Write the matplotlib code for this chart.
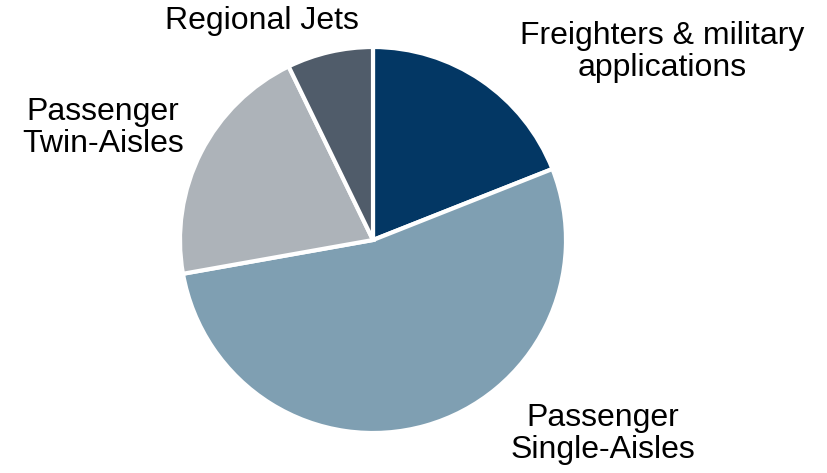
import matplotlib.pyplot as plt

plt.rcParams['font.family'] = ['Liberation Sans', 'DejaVu Sans']

# shares (percent)
segments = ["Freighters & military\napplications", "Passenger\nSingle-Aisles",
            "Passenger\nTwin-Aisles", "Regional Jets"]
shares = [19.0, 53.2, 20.6, 7.2]
colors = ["#033764", "#7f9fb2", "#adb3b9", "#505c6a"]

W, H = 828, 473
fig = plt.figure(figsize=(W / 100, H / 100), dpi=100)
ax = fig.add_axes([0, 0, 1, 1])

ax.pie(shares, colors=colors, startangle=90, counterclock=False,
       center=(373, H - 240), radius=193, frame=True,
       wedgeprops=dict(edgecolor="white", linewidth=3))
ax.set_xlim(0, W)
ax.set_ylim(0, H)
ax.set_aspect("equal")
ax.axis("off")

# label positions in pixels (x, y from top)
label_pos = [(662, 52), (603, 434), (103, 128), (262, 21)]
for txt, (x, y) in zip(segments, label_pos):
    ax.text(x, H - y, txt, ha="center", va="center", fontsize=23,
            linespacing=1.12, color="black")

fig.savefig("out.png", dpi=100)
